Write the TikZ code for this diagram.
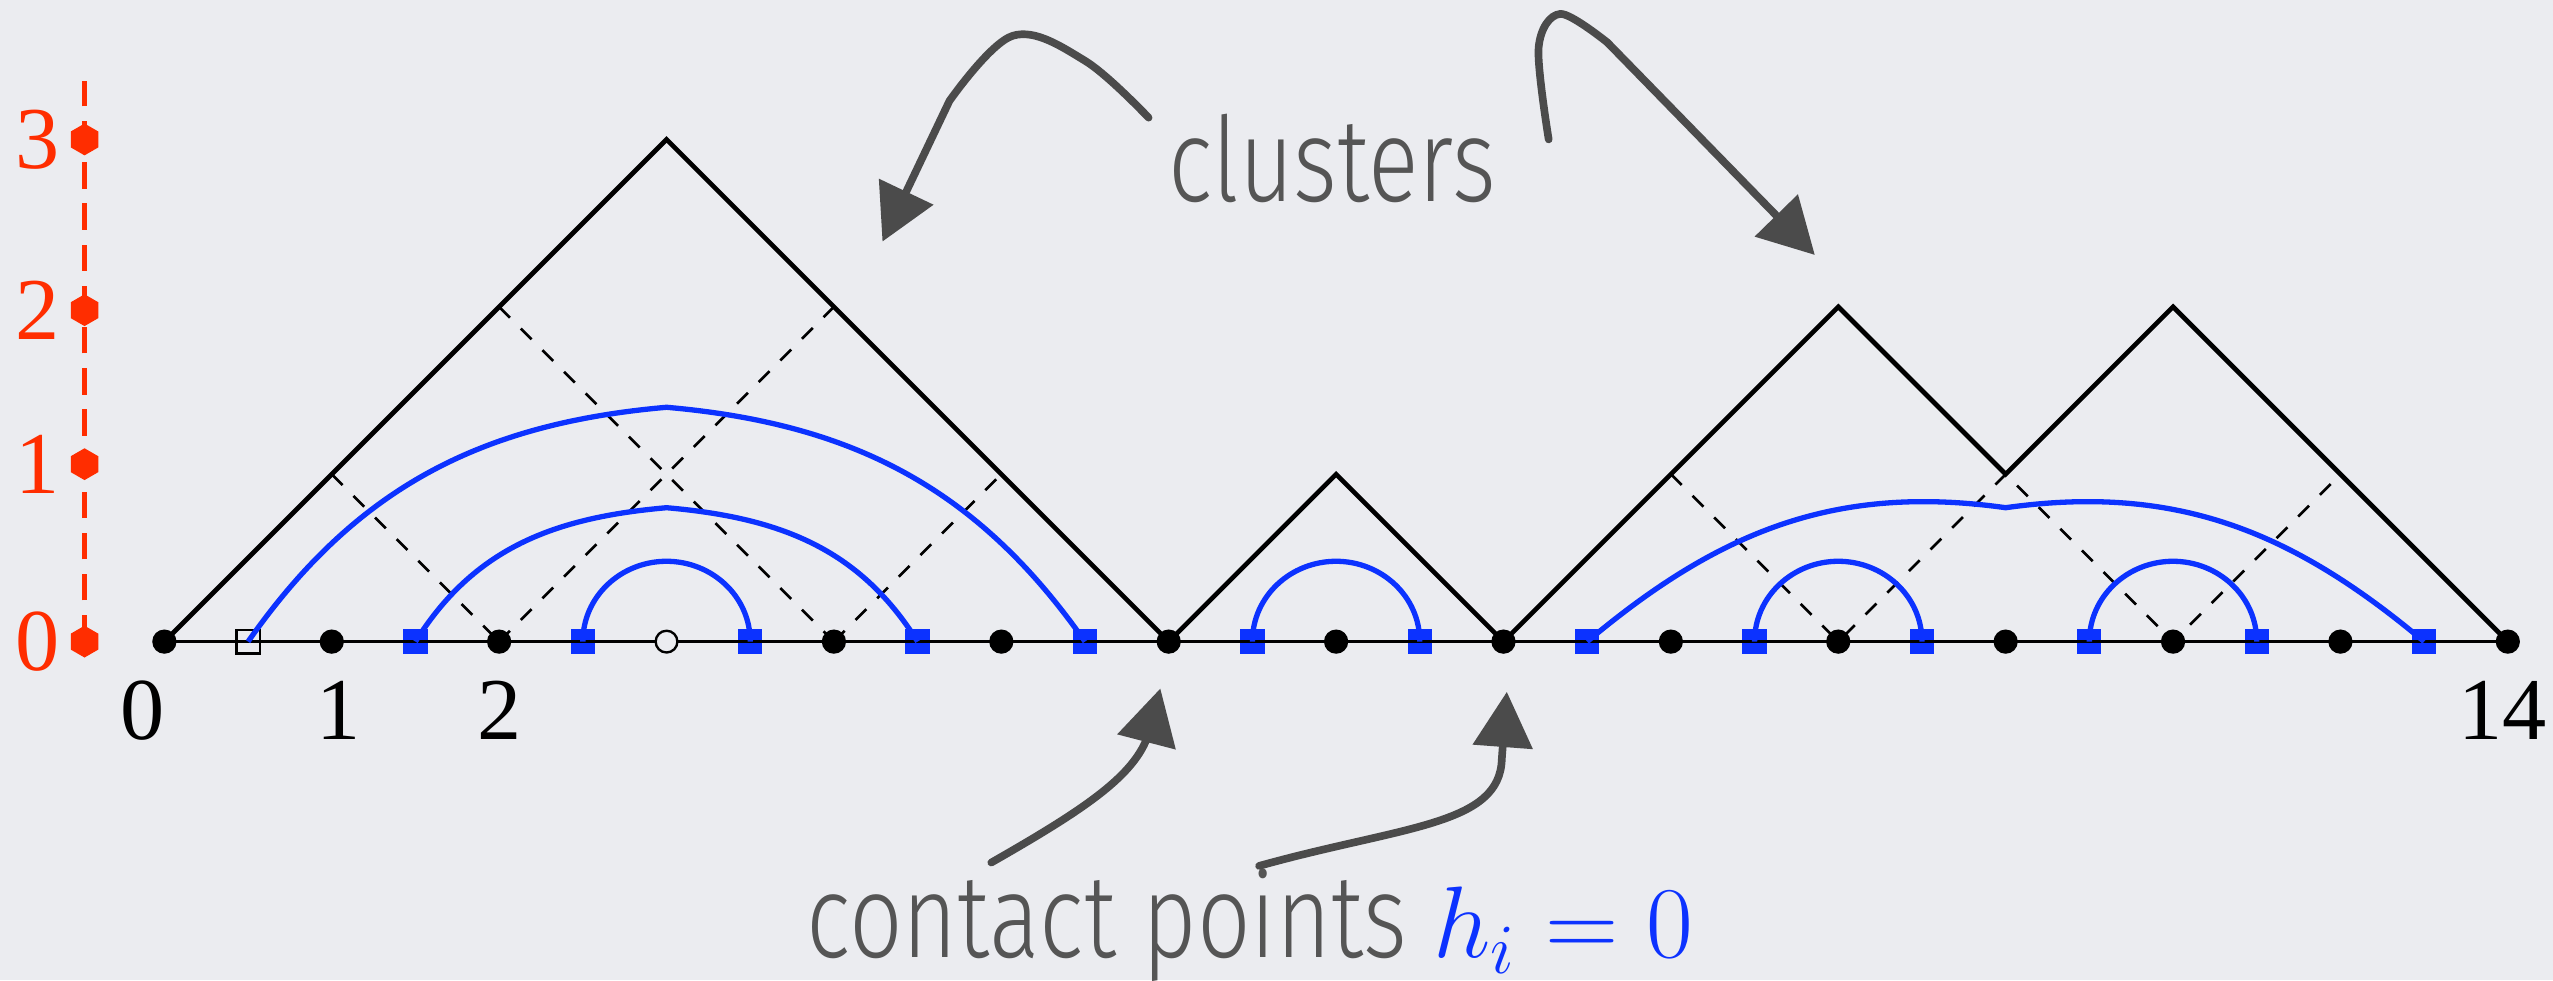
\documentclass[tikz,border=0pt]{standalone}
\usepackage{fontspec}
\setmainfont{Liberation Serif}
\newfontfamily\lightsf{Fira Sans Light}[FakeStretch=0.8]
\usepackage{tikz}
\usetikzlibrary{positioning,arrows.meta,shapes.geometric}
\definecolor{bgcol}{RGB}{235,236,240}
\definecolor{arcblue}{RGB}{12,50,255}
\definecolor{axisred}{RGB}{255,45,0}
\definecolor{sketchgrey}{RGB}{75,75,75}
\definecolor{labelgrey}{RGB}{85,85,85}

\begin{document}
\begin{tikzpicture}[
    blackdot/.style={circle, fill=black, inner sep=0pt, minimum size=1.45mm},
    opendot/.style={circle, draw, fill=bgcol, line width=0.4pt, inner sep=0pt, minimum size=1.3mm},
    bluesq/.style={rectangle, fill=arcblue, inner sep=0pt, minimum size=1.45mm},
    opensq/.style={rectangle, draw, line width=0.4pt, inner sep=0pt, minimum size=1.4mm},
    hexmark/.style={regular polygon, regular polygon sides=6, shape border rotate=30, fill=axisred, inner sep=0pt, minimum size=1.9mm},
    walk/.style={draw, line width=0.8pt},
    lattice/.style={draw, line width=0.45pt, dash pattern=on 2.6pt off 2.6pt},
    arcline/.style={draw, arcblue, line width=0.9pt},
    axisline/.style={draw, axisred, line width=0.7pt, dash pattern=on 4.5pt off 2.5pt},
    sketch/.style={draw, sketchgrey, line width=1.3pt, line cap=round, -{Triangle[length=3.3mm, width=3.5mm]}},
    numlab/.style={font=\fontsize{15}{18}\selectfont, inner sep=0pt},
    redlab/.style={font=\fontsize{15}{18}\selectfont, inner sep=0pt, text=axisred, anchor=east},
    caption/.style={font=\lightsf\fontsize{20}{24}\selectfont, text=labelgrey, inner sep=0pt, anchor=base west}
]
\useasboundingbox (-0.982,-2.023) rectangle (14.27,3.833);
\fill[bgcol] (-0.982,-2.023) rectangle (14.27,3.833);

% heights of the walk
\foreach \h [count=\i from 0] in {0,1,2,3,2,1,0,1,0,1,2,1,2,1,0}
  \coordinate (w\i) at (\i,\h);

% sites on the line
\foreach \i in {0,1,2,4,5,6,7,8,9,10,11,12,13,14}
  \node[blackdot] (p\i) at (\i,0) {};
\node[opensq] (q0) at (0.5,0) {};
\foreach \i in {1,...,13}
  \node[bluesq] (q\i) at (\i+0.5,0) {};
\draw[line width=0.45pt] (p0.center) -- (p14.center);
\node[opendot] (p3) at (3,0) {};

% the walk and its lattice
\draw[walk] (w0) \foreach \i in {1,...,14} {-- (w\i)};
\draw[lattice] (w1) -- (p2.center) (w2) -- (p4.center) (p2.center) -- (w4) (p4.center) -- (w5);
\draw[lattice] (w9) -- (p10.center) -- (w11) -- (p12.center) -- (w13);

% arcs
\coordinate (a1) at (3,1.40);
\coordinate (a2) at (3,0.80);
\coordinate (a3) at (3,0.48);
\coordinate (a4) at (7,0.48);
\coordinate (a5) at (10,0.48);
\coordinate (a6) at (12,0.48);
\coordinate (a7) at (11,0.80);
\draw[arcline] (q0.center) to[out=55,in=185] (a1) to[out=-5,in=125] (q5.center);
\draw[arcline] (q1.center) to[out=58,in=185] (a2) to[out=-5,in=122] (q4.center);
\draw[arcline] (q2.center) to[out=90,in=180] (a3) to[out=0,in=90] (q3.center);
\draw[arcline] (q6.center) to[out=90,in=180] (a4) to[out=0,in=90] (q7.center);
\draw[arcline] (q9.center) to[out=90,in=180] (a5) to[out=0,in=90] (q10.center);
\draw[arcline] (q11.center) to[out=90,in=180] (a6) to[out=0,in=90] (q12.center);
\draw[arcline] (q8.center) to[out=40,in=172] (a7) to[out=8,in=140] (q13.center);

% height axis
\coordinate (axtop) at (-0.477,3.35);
\foreach \v/\y in {0/0,1/1.06,2/1.98,3/3}{
  \node[hexmark] (ax\v) at (-0.477,\y) {};
  \node[redlab] (axl\v) at (-0.62,\y) {\v};
}
\draw[axisline] (ax0.center) -- (axtop);

% site numbers
\node[numlab, below=1.5mm of p0, xshift=-1.3mm] (n0) {0};
\node[numlab, below=1.5mm of p1, xshift=0.4mm] (n1) {1};
\node[numlab, below=1.5mm of p2] (n2) {2};
\node[numlab, below=1.5mm of p14, xshift=-0.3mm] (n14) {14};

% captions and sketched arrows
\node[caption] (clus) at (5.99,2.63) {clusters};
\node[caption] (contact) at (3.83,-1.89) {contact points {\fontsize{18}{22}\selectfont\color{arcblue}$h_i=0$}};
\coordinate (tailA) at (5.88,3.13);
\coordinate (tipA) at (4.29,2.39);
\coordinate (tailB) at (8.27,3.0);
\coordinate (tipB) at (9.86,2.31);
\coordinate (tailC) at (4.94,-1.32);
\coordinate (tipC) at (5.95,-0.28);
\coordinate (tailD) at (6.54,-1.34);
\coordinate (tipD) at (8.02,-0.30);
\draw[sketch] plot[smooth, tension=0.6] coordinates {(tailA) (5.50,3.47) (5.07,3.62) (4.69,3.23)} -- (tipA);
\draw[sketch] plot[smooth, tension=0.55] coordinates {(tailB) (8.21,3.55) (8.34,3.75) (8.62,3.58)} -- (tipB);
\draw[sketch] (tailC) .. controls (5.5,-1.0) and (5.8,-0.8) .. (5.88,-0.55) -- (tipC);
\draw[sketch] (tailD) .. controls (7.4,-1.1) and (7.98,-1.1) .. (7.99,-0.7) -- (tipD);

\end{tikzpicture}
\end{document}
